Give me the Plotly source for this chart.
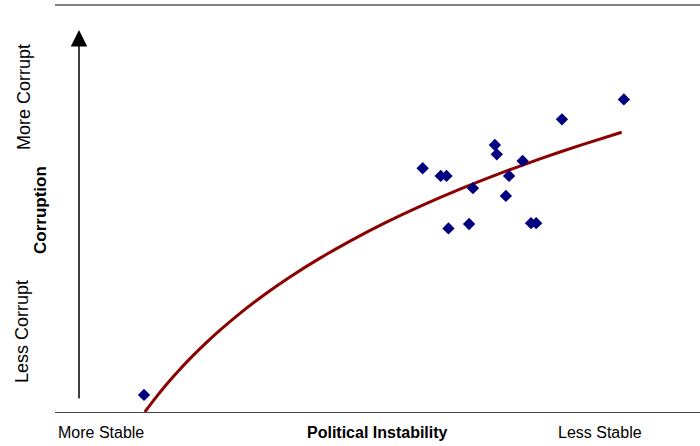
import plotly.graph_objects as go

# Scatter data (instability index 0-100, corruption index 0-100)
instability = [13.8, 57.0, 59.8, 60.7, 61.0, 64.2, 64.8, 68.2, 68.5, 70.4, 69.9, 72.5, 73.8, 74.6, 78.6, 88.2]
corruption = [4.2, 59.9, 58.0, 58.0, 45.1, 46.2, 55.0, 65.6, 63.3, 58.0, 53.1, 61.7, 46.4, 46.4, 71.9, 76.8]

# Logarithmic trend line
trend_x = [13.92, 15.50, 17.05, 18.60, 20.93, 23.26, 25.58, 28.68, 32.56, 36.43,
           41.09, 45.74, 51.16, 56.59, 62.79, 68.99, 75.19, 81.40, 87.86]
trend_y = [0.0, 3.30, 6.33, 9.16, 13.11, 16.74, 20.11, 24.24, 28.93, 33.18,
           37.80, 42.00, 46.46, 50.52, 54.75, 58.63, 62.20, 65.51, 68.73]

FONT = "Liberation Sans, Arial, sans-serif"
L, T, W, H = 55, 5, 645, 407  # plot area in pixels


def px(xp):
    return (xp - L) / W


def py(yp):
    return (T + H - yp) / H


fig = go.Figure()
fig.add_trace(go.Scatter(x=trend_x, y=trend_y, mode="lines",
                         line=dict(color="#8B0000", width=3, shape="spline", smoothing=0.6),
                         hoverinfo="skip", showlegend=False))
fig.add_trace(go.Scatter(x=instability, y=corruption, mode="markers",
                         marker=dict(symbol="diamond", size=9.5, color="#000080"),
                         cliponaxis=False, showlegend=False))

annotations = [
    dict(text="More Corrupt", x=px(24), y=py(97), textangle=-90, font=dict(size=18)),
    dict(text="Less Corrupt", x=px(22), y=py(332), textangle=-90, font=dict(size=18)),
    dict(text="<b>Corruption</b>", x=px(40), y=py(210), textangle=-90, font=dict(size=17)),
    dict(text="More Stable", x=px(101), y=py(432), font=dict(size=16)),
    dict(text="<b>Political Instability</b>", x=px(377), y=py(432), font=dict(size=16)),
    dict(text="Less Stable", x=px(600), y=py(432), font=dict(size=16)),
]
for a in annotations:
    a.update(xref="paper", yref="paper", xanchor="center", yanchor="middle", showarrow=False)
    a["font"].update(family=FONT, color="#000000")

# Vertical arrow on the left (head at y=30px, tail at y=400px)
annotations.append(dict(x=px(79), y=py(30), ax=0, ay=370, xref="paper", yref="paper",
                        axref="pixel", ayref="pixel", text="", showarrow=True,
                        arrowhead=2, arrowsize=2.2, arrowwidth=1.5, arrowcolor="#000000"))

fig.update_layout(
    width=700, height=446,
    margin=dict(l=L, r=0, t=T, b=446 - T - H),
    paper_bgcolor="white", plot_bgcolor="white",
    xaxis=dict(range=[0, 100], showgrid=False, zeroline=False, showticklabels=False,
               ticks="", showline=True, linecolor="#444444", linewidth=1),
    yaxis=dict(range=[0, 100], showgrid=False, zeroline=False, showticklabels=False,
               ticks="", showline=False),
    annotations=annotations,
    shapes=[dict(type="line", xref="paper", yref="paper", x0=0, x1=1, y0=1, y1=1,
                 line=dict(color="#000000", width=1))],
    showlegend=False,
)

fig.write_html("out.html", config={"displayModeBar": False},
               post_script="document.body.style.margin='0px';document.body.style.overflow='hidden';")
